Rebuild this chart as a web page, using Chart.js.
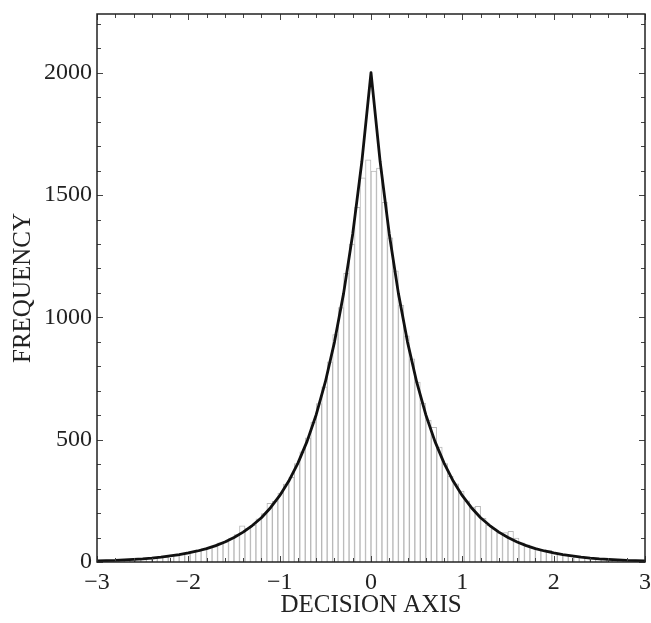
<!DOCTYPE html>
<html>
<head>
<meta charset="utf-8">
<script src="https://cdn.jsdelivr.net/npm/chart.js@4.4.1/dist/chart.umd.min.js"></script>
<style>
  html, body { margin: 0; padding: 0; background: #fff; overflow: hidden; }
  #wrap { width: 663px; height: 623px; }
</style>
</head>
<body>
<div id="wrap"><canvas id="chart"></canvas></div>
<script>
// histogram bins (centres), width 0.06
const binCenters = [
  -2.97, -2.91, -2.85, -2.79, -2.73, -2.67, -2.61, -2.55, -2.49, -2.43,
  -2.37, -2.31, -2.25, -2.19, -2.13, -2.07, -2.01, -1.95, -1.89, -1.83,
  -1.77, -1.71, -1.65, -1.59, -1.53, -1.47, -1.41, -1.35, -1.29, -1.23,
  -1.17, -1.11, -1.05, -0.99, -0.93, -0.87, -0.81, -0.75, -0.69, -0.63,
  -0.57, -0.51, -0.45, -0.39, -0.33, -0.27, -0.21, -0.15, -0.09, -0.03,
  0.03, 0.09, 0.15, 0.21, 0.27, 0.33, 0.39, 0.45, 0.51, 0.57,
  0.63, 0.69, 0.75, 0.81, 0.87, 0.93, 0.99, 1.05, 1.11, 1.17,
  1.23, 1.29, 1.35, 1.41, 1.47, 1.53, 1.59, 1.65, 1.71, 1.77,
  1.83, 1.89, 1.95, 2.01, 2.07, 2.13, 2.19, 2.25, 2.31, 2.37,
  2.43, 2.49, 2.55, 2.61, 2.67, 2.73, 2.79, 2.85, 2.91, 2.97
]
const binCounts = [
  4, 6, 5, 8, 7, 11, 9, 13, 12, 16,
  15, 21, 19, 27, 26, 33, 34, 42, 44, 55,
  60, 63, 78, 82, 98, 112, 148, 138, 150, 176,
  198, 240, 248, 282, 318, 346, 402, 450, 508, 572,
  648, 716, 818, 930, 1040, 1180, 1300, 1450, 1570, 1644,
  1598, 1610, 1470, 1325, 1190, 1050, 925, 830, 735, 650,
  580, 550, 470, 402, 350, 320, 290, 250, 225, 228,
  178, 150, 136, 118, 120, 125, 98, 78, 70, 60,
  52, 50, 48, 38, 33, 28, 27, 22, 20, 18,
  15, 14, 12, 10, 9, 8, 7, 6, 5, 4
]

// fitted curve
const fitX = [
  -3.0, -2.9, -2.8, -2.7, -2.6, -2.5, -2.4, -2.3, -2.2, -2.1,
  -2.0, -1.9, -1.8, -1.7, -1.6, -1.5, -1.4, -1.3, -1.2, -1.1,
  -1.0, -0.9, -0.8, -0.7, -0.6, -0.5, -0.4, -0.3, -0.2, -0.1,
  0,
  0.1, 0.2, 0.3, 0.4, 0.5, 0.6, 0.7, 0.8, 0.9, 1.0,
  1.1, 1.2, 1.3, 1.4, 1.5, 1.6, 1.7, 1.8, 1.9, 2.0,
  2.1, 2.2, 2.3, 2.4, 2.5, 2.6, 2.7, 2.8, 2.9, 3.0
]
const fitY = [
  5, 6, 7, 9, 11, 13, 16, 20, 25, 30,
  37, 45, 55, 67, 82, 100, 122, 149, 181, 222,
  271, 331, 404, 493, 602, 736, 899, 1098, 1341, 1637,
  2000,
  1637, 1341, 1098, 899, 736, 602, 493, 404, 331, 271,
  222, 181, 149, 122, 100, 82, 67, 55, 45, 37,
  30, 25, 20, 16, 13, 11, 9, 7, 6, 5
]

const xTickValues = [-3, -2, -1, 0, 1, 2, 3]
const yTickValues = [0, 500, 1000, 1500, 2000]
const xMinorStep = 0.2
const yMinorStep = 100

const serif = "'Liberation Serif', 'Times New Roman', serif"
const inkColor = "#222"

const frame = {
  id: "frame",
  afterDatasetsDraw(chart) {
    const { ctx, chartArea: a, scales } = chart
    const xs = scales.x, ys = scales.y
    ctx.save()
    ctx.strokeStyle = "#444"
    ctx.lineWidth = 1
    ctx.beginPath()
    for (let v = xs.min; v <= xs.max + 1e-9; v += xMinorStep) {
      const px = Math.round(xs.getPixelForValue(v)) + 0.5
      const major = xTickValues.some(t => Math.abs(t - v) < 1e-6)
      const len = major ? 6 : 4
      ctx.moveTo(px, a.bottom); ctx.lineTo(px, a.bottom - len)
      ctx.moveTo(px, a.top); ctx.lineTo(px, a.top + len)
    }
    for (let v = 0; v <= ys.max + 1e-9; v += yMinorStep) {
      const py = Math.round(ys.getPixelForValue(v)) + 0.5
      const major = yTickValues.includes(Math.round(v))
      const len = major ? 6 : 4
      ctx.moveTo(a.left, py); ctx.lineTo(a.left + len, py)
      ctx.moveTo(a.right, py); ctx.lineTo(a.right - len, py)
    }
    ctx.stroke()
    ctx.lineWidth = 1.5
    ctx.strokeStyle = "#222"
    ctx.strokeRect(a.left, a.top, a.right - a.left, a.bottom - a.top)
    ctx.restore()
  }
}

function draw() {
  new Chart(document.getElementById("chart"), {
    type: "bar",
    data: {
      datasets: [
        {
          type: "line",
          data: fitX.map((x, i) => ({ x, y: fitY[i] })),
          borderColor: "#111",
          borderWidth: 2.8,
          borderJoinStyle: "round",
          borderCapStyle: "round",
          pointRadius: 0,
          tension: 0,
          fill: false,
          order: 0
        },
        {
          type: "bar",
          data: binCenters.map((x, i) => ({ x, y: binCounts[i] })),
          backgroundColor: "#fff",
          borderColor: "#b8b8b8",
          borderWidth: 1,
          barPercentage: 1,
          categoryPercentage: 1,
          order: 1
        }
      ]
    },
    options: {
      responsive: true,
      maintainAspectRatio: false,
      animation: false,
      layout: { padding: { left: 0, right: 18, top: 14, bottom: 0 } },
      plugins: {
        legend: { display: false },
        tooltip: { enabled: false }
      },
      scales: {
        x: {
          type: "linear",
          min: -3,
          max: 3,
          offset: false,
          grid: { display: false, drawTicks: false },
          border: { display: false },
          ticks: {
            stepSize: 1,
            padding: 6,
            autoSkip: false,
            color: inkColor,
            font: { family: serif, size: 24 },
            maxRotation: 0,
            callback: v => String(v).replace("-", "\u2212")
          },
          title: {
            display: true,
            text: "DECISION AXIS",
            color: inkColor,
            font: { family: serif, size: 25 },
            padding: { top: 0, bottom: 3 }
          },
          afterFit: s => { s.height = 61 }
        },
        y: {
          min: 0,
          max: 2240,
          grid: { display: false, drawTicks: false },
          border: { display: false },
          afterBuildTicks: s => { s.ticks = yTickValues.map(v => ({ value: v })) },
          ticks: {
            autoSkip: false,
            padding: 5,
            color: inkColor,
            font: { family: serif, size: 24, lineHeight: 0.6 },
            callback: v => String(v)
          },
          title: {
            display: true,
            text: "FREQUENCY",
            color: inkColor,
            font: { family: serif, size: 25 },
            padding: { top: 8, bottom: 0 }
          },
          afterFit: s => { s.width = 97 }
        }
      }
    },
    plugins: [frame]
  })
}

if (document.fonts && document.fonts.load) {
  Promise.all([
    document.fonts.load("24px 'Liberation Serif'"),
    document.fonts.load("25px 'Liberation Serif'")
  ]).then(draw, draw)
} else {
  draw()
}
</script>
</body>
</html>
